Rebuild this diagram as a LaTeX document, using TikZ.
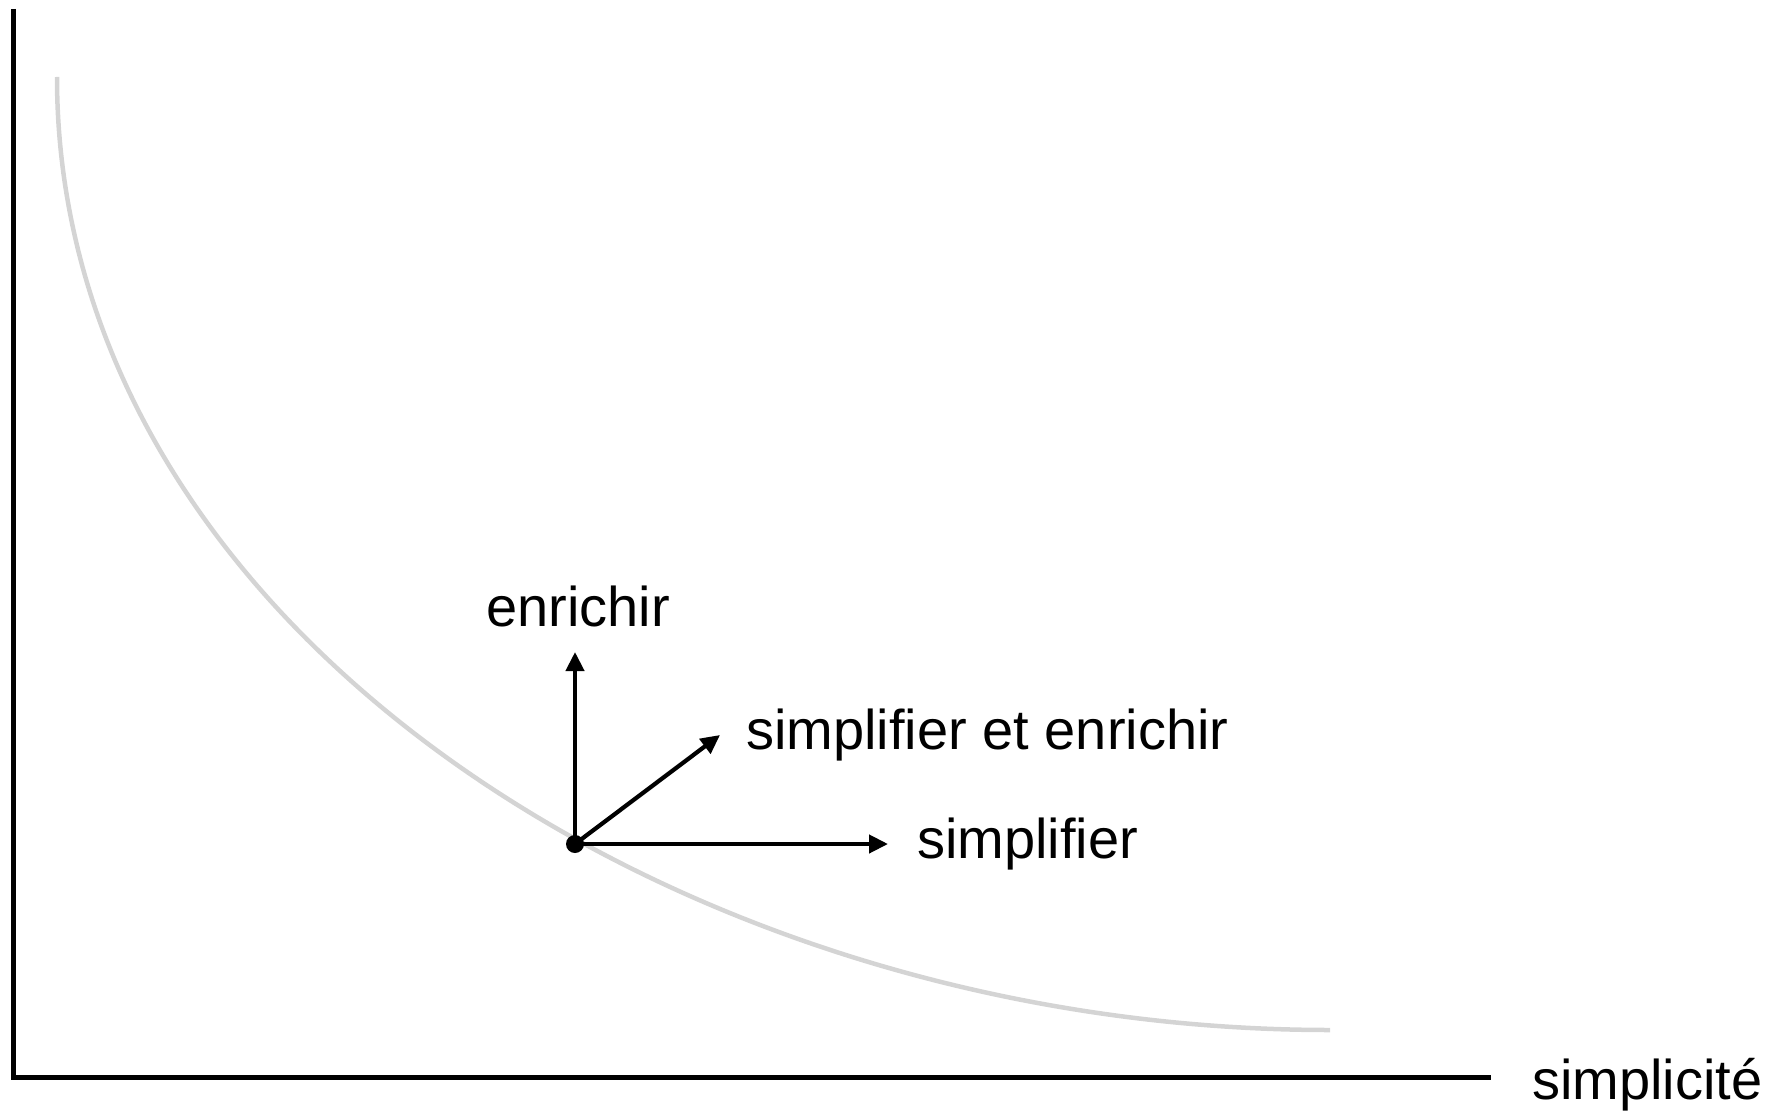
\documentclass[tikz,border=0pt]{standalone}
\usepackage{fontspec}
\setmainfont{Liberation Sans}
\usetikzlibrary{arrows.meta}
\definecolor{curvegray}{HTML}{D4D4D4}
\tikzset{
  axisline/.style={line width=5pt, black, line join=miter},
  trade/.style={line width=4.5pt, curvegray},
  vec/.style={line width=4.2pt, black, -{Triangle[length=19pt,width=18pt]}},
  lbl/.style={anchor=base west, inner sep=0pt, font=\fontsize{56}{67}\selectfont},
  pt/.style={circle, fill=black, inner sep=0pt, minimum size=18pt}
}
\begin{document}
\begin{tikzpicture}[x=1pt,y=-1pt]
\useasboundingbox (0,0) rectangle (1779,1118);
% axes
\coordinate (ytop) at (13,9);
\coordinate (orig) at (13,1077.5);
\coordinate (xend) at (1491,1077.5);
\draw[axisline] (ytop) -- (orig) -- (xend);
\node[lbl] (xlab) at (1532,1099) {simplicité};
% trade-off curve
\coordinate (cstart) at (57,77);
\coordinate (cend) at (1330,1030);
\draw[trade] (cstart) .. controls (57,627) and (680,1030) .. (cend);
% point and vectors
\node[pt] (o) at (575,844) {};
\coordinate (tipup) at (575,652);
\coordinate (tipdiag) at (720,735);
\coordinate (tipright) at (888,844);
\draw[vec] (o.center) -- (tipup);
\draw[vec] (o.center) -- (tipdiag);
\draw[vec] (o.center) -- (tipright);
\node[lbl] (lup) at (486,626) {enrichir};
\node[lbl] (ldiag) at (746,749) {simplifier et enrichir};
\node[lbl] (lright) at (917,858) {simplifier};
\end{tikzpicture}
\end{document}
